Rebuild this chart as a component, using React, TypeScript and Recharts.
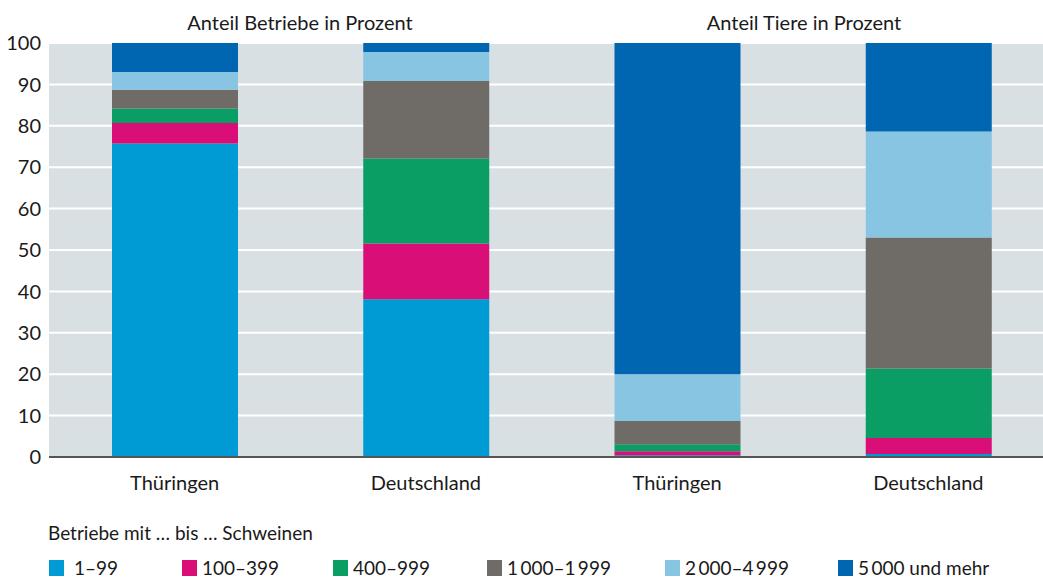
import React from 'react'
import { BarChart, Bar, XAxis, YAxis, CartesianGrid } from 'recharts'

// Schweinehaltung nach Bestandsgrößenklassen, Thüringen vs. Deutschland
const regions = ['Thüringen', 'Deutschland', 'Thüringen', 'Deutschland']
const panelTitles = ['Anteil Betriebe in Prozent', 'Anteil Tiere in Prozent']
const sizeClasses = ['1–99', '100–399', '400–999', '1\u2009000–1\u2009999', '2\u2009000–4\u2009999', '5\u2009000 und mehr']
const yTicks = [0, 10, 20, 30, 40, 50, 60, 70, 80, 90, 100]

// values per bar: Betriebe TH, Betriebe DE, Tiere TH, Tiere DE
const class1to99 = [75.7, 38.1, 0.4, 0.7]
const class100to399 = [5.0, 13.5, 1.0, 3.9]
const class400to999 = [3.5, 20.5, 1.7, 16.8]
const class1000to1999 = [4.5, 18.7, 5.6, 31.6]
const class2000to4999 = [4.3, 7.0, 11.3, 25.6]
const class5000plus = [7.0, 2.2, 80.0, 21.4]

const seriesValues = [class1to99, class100to399, class400to999, class1000to1999, class2000to4999, class5000plus]
const colors = ['#009ad4', '#d90f77', '#0a9e64', '#6f6b67', '#87c5e3', '#0066b1']

const chartData = regions.map((region, i) => {
  const row: Record<string, string | number> = { region }
  seriesValues.forEach((vals, s) => {
    row[`s${s}`] = vals[i]
  })
  return row
})

const FONT = 'Lato, sans-serif'
const TEXT = '#1a1a1a'

// legend item widths (layout only)
const legendWidths = [133, 151, 154, 178, 173, 200]

export default function App() {
  return (
    <div
      style={{
        position: 'absolute',
        left: 0,
        top: 0,
        width: 1043,
        height: 580,
        overflow: 'hidden',
        background: '#fff',
        fontFamily: FONT,
        color: TEXT,
      }}
    >
      {panelTitles.map((t, i) => (
        <div
          key={t}
          style={{
            position: 'absolute',
            top: 10,
            left: i === 0 ? 300 : 804,
            transform: 'translateX(-50%)',
            fontSize: 20,
            whiteSpace: 'nowrap',
          }}
        >
          {t}
        </div>
      ))}

      <BarChart
        width={1054}
        height={500}
        data={chartData}
        margin={{ top: 43, right: 0, bottom: 0, left: 0 }}
        barSize={126}
      >
        <CartesianGrid vertical={false} stroke="#ffffff" strokeWidth={2} fill="#d8e0e4" />
        <XAxis
          dataKey="region"
          height={43}
          tickLine={false}
          axisLine={{ stroke: '#555555', strokeWidth: 2 }}
          tick={{ fill: TEXT, fontSize: 20, fontFamily: FONT }}
          tickMargin={13}
        />
        <YAxis
          width={49}
          domain={[0, 100]}
          ticks={yTicks}
          axisLine={false}
          tickLine={false}
          tick={{ fill: TEXT, fontSize: 20, fontFamily: FONT }}
        />
        {sizeClasses.map((name, s) => (
          <Bar
            key={name}
            dataKey={`s${s}`}
            name={name}
            stackId="a"
            fill={colors[s]}
            isAnimationActive={false}
          />
        ))}
      </BarChart>

      <div style={{ position: 'absolute', left: 48, top: 521, fontSize: 19, whiteSpace: 'nowrap' }}>
        Betriebe mit … bis … Schweinen
      </div>
      <div
        style={{
          position: 'absolute',
          left: 49,
          top: 557,
          height: 22,
          display: 'flex',
          fontSize: 19,
          lineHeight: '22px',
        }}
      >
        {sizeClasses.map((name, s) => (
          <div
            key={name}
            style={{ width: legendWidths[s], display: 'flex', alignItems: 'center', whiteSpace: 'nowrap' }}
          >
            <span
              style={{
                display: 'inline-block',
                width: 15,
                height: 16,
                background: colors[s],
                marginRight: s === 0 ? 10 : 5,
              }}
            />
            {name}
          </div>
        ))}
      </div>
    </div>
  )
}
